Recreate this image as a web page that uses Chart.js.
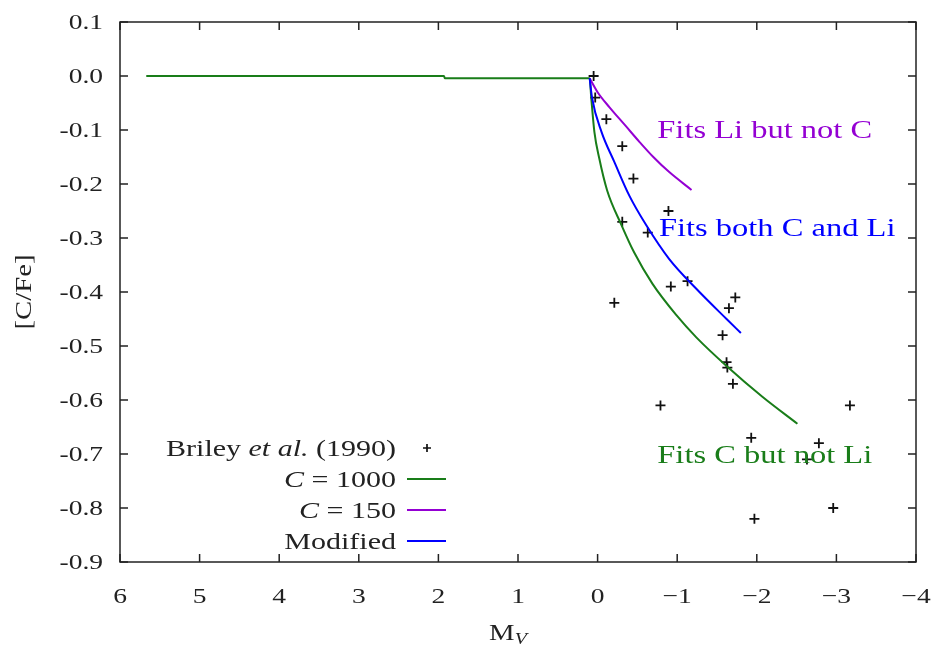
<!DOCTYPE html>
<html>
<head>
<meta charset="utf-8">
<script src="https://cdn.jsdelivr.net/npm/chart.js@4.4.1/dist/chart.umd.min.js"></script>
<style>
  html, body { margin: 0; padding: 0; background: #fff; }
  #wrap { width: 947px; height: 651px; }
</style>
</head>
<body>
<div id="wrap"><canvas id="chart"></canvas></div>
<script>
// Briley et al. (1990) giants
const brileyMv  = [0.05, 0.03, -0.11, -0.31, -0.45, -0.89, -0.31, -0.63, -0.92, -1.13, -0.21, -1.73,
                   -1.65, -1.57, -1.62, -1.63, -1.70, -0.79, -3.17, -1.93, -2.78, -2.63, -2.96, -1.97];
const brileyCFe = [0.00, -0.04, -0.08, -0.13, -0.19, -0.25, -0.27, -0.29, -0.39, -0.38, -0.42, -0.41,
                   -0.43, -0.48, -0.53, -0.54, -0.57, -0.61, -0.61, -0.67, -0.68, -0.71, -0.80, -0.82];

// mixing model, C = 1000
const c1000Mv  = [5.67, 1.93, 1.92, 0.10, 0.08, 0.04, -0.02, -0.12, -0.30, -0.46, -0.69, -0.99, -1.24, -1.62, -2.07, -2.51];
const c1000CFe = [0.000, 0.000, -0.004, -0.004, -0.040, -0.104, -0.152, -0.212, -0.276, -0.327, -0.385, -0.443, -0.484, -0.537, -0.594, -0.644];

// mixing model, C = 150
const c150Mv  = [0.10, 0.00, -0.15, -0.35, -0.52, -0.70, -0.90, -1.18];
const c150CFe = [-0.004, -0.030, -0.058, -0.092, -0.121, -0.150, -0.178, -0.211];

// modified mixing model
const modMv  = [0.10, 0.07, -0.05, -0.21, -0.40, -0.61, -0.90, -1.24, -1.62, -1.80];
const modCFe = [-0.004, -0.040, -0.104, -0.159, -0.222, -0.276, -0.339, -0.394, -0.450, -0.476];

const GREEN = 'rgb(25,125,25)';
const PURPLE = 'rgb(148,0,211)';
const BLUE = 'rgb(0,0,255)';
const SERIF = '"Liberation Serif", "Times New Roman", serif';
const STRETCH = 1.25;

const pts = (xs, ys) => xs.map((x, i) => ({ x, y: ys[i] }));

const lineSet = (label, xs, ys, color, order) => ({
  label,
  data: pts(xs, ys),
  showLine: true,
  borderColor: color,
  borderWidth: 2,
  pointRadius: 0,
  fill: false,
  cubicInterpolationMode: 'monotone',
  order,
});

// draw a row of text pieces, horizontally stretched like the TeX output
function drawRuns(ctx, runs, x, y, align, color) {
  ctx.save();
  ctx.fillStyle = color || '#222';
  ctx.textBaseline = 'alphabetic';
  ctx.textAlign = 'left';
  let w = 0;
  runs.forEach(r => { ctx.font = r.font; w += ctx.measureText(r.text).width; });
  let x0 = x;
  if (align === 'right') x0 = x - w * STRETCH;
  else if (align === 'center') x0 = x - w * STRETCH / 2;
  ctx.translate(x0, y);
  ctx.scale(STRETCH, 1);
  let off = 0;
  runs.forEach(r => {
    ctx.font = r.font;
    ctx.fillText(r.text, off, r.dy || 0);
    off += ctx.measureText(r.text).width;
  });
  ctx.restore();
}

const frame = {
  id: 'frame',
  afterDraw(chart) {
    const { ctx, chartArea: a, scales: { x, y } } = chart;
    const tick = 8;
    ctx.save();
    ctx.strokeStyle = '#222';
    ctx.lineWidth = 1.5;
    ctx.strokeRect(a.left, a.top, a.right - a.left, a.bottom - a.top);
    ctx.beginPath();
    x.ticks.forEach(t => {
      const px = x.getPixelForValue(t.value);
      ctx.moveTo(px, a.bottom); ctx.lineTo(px, a.bottom - tick);
      ctx.moveTo(px, a.top); ctx.lineTo(px, a.top + tick);
    });
    y.ticks.forEach(t => {
      const py = y.getPixelForValue(t.value);
      ctx.moveTo(a.left, py); ctx.lineTo(a.left + tick, py);
      ctx.moveTo(a.right, py); ctx.lineTo(a.right - tick, py);
    });
    ctx.stroke();
    ctx.restore();

    const tickFont = `22px ${SERIF}`;
    x.ticks.forEach(t => {
      const v = Math.round(t.value);
      const s = v < 0 ? '\u2212' + Math.abs(v) : String(v);
      drawRuns(ctx, [{ text: s, font: tickFont }], x.getPixelForValue(t.value), a.bottom + 41, 'center');
    });
    y.ticks.forEach(t => {
      const v = Math.abs(t.value) < 1e-9 ? 0 : t.value;
      const s = v < 0 ? '-' + Math.abs(v).toFixed(1) : v.toFixed(1);
      drawRuns(ctx, [{ text: s, font: tickFont }], a.left - 17, y.getPixelForValue(t.value) + 7, 'right');
    });

    // axis titles
    drawRuns(ctx, [
      { text: 'M', font: `23px ${SERIF}` },
      { text: 'V', font: `italic 16px ${SERIF}`, dy: 4 },
    ], (a.left + a.right) / 2 - 10, a.bottom + 78, 'center');
    ctx.save();
    ctx.translate(a.left - 96, (a.top + a.bottom) / 2);
    ctx.rotate(-Math.PI / 2);
    drawRuns(ctx, [{ text: '[C/Fe]', font: `23px ${SERIF}` }], 0, 7, 'center');
    ctx.restore();

    // key, lower left
    const kx = a.left + 276;
    const rows = [
      { runs: [{ text: 'Briley ', f: '' }, { text: 'et al.', f: 'italic ' }, { text: ' (1990)', f: '' }], color: null },
      { runs: [{ text: 'C', f: 'italic ' }, { text: ' = 1000', f: '' }], color: GREEN },
      { runs: [{ text: 'C', f: 'italic ' }, { text: ' = 150', f: '' }], color: PURPLE },
      { runs: [{ text: 'Modified', f: '' }], color: BLUE },
    ];
    rows.forEach((r, i) => {
      const cy = a.top + 426 + i * 31;
      drawRuns(ctx, r.runs.map(p => ({ text: p.text, font: `${p.f}24px ${SERIF}` })), kx, cy + 8, 'right');
      ctx.save();
      ctx.lineWidth = 2;
      if (r.color) {
        ctx.strokeStyle = r.color;
        ctx.beginPath(); ctx.moveTo(kx + 11, cy); ctx.lineTo(kx + 50, cy); ctx.stroke();
      } else {
        ctx.strokeStyle = '#111';
        ctx.lineWidth = 1.7;
        ctx.beginPath();
        ctx.moveTo(kx + 27, cy); ctx.lineTo(kx + 35, cy);
        ctx.moveTo(kx + 31, cy - 4); ctx.lineTo(kx + 31, cy + 4);
        ctx.stroke();
      }
      ctx.restore();
    });

    // notes next to the tracks
    const notes = [
      { text: 'Fits Li but not C', mv: -0.75, cfe: -0.115, color: PURPLE },
      { text: 'Fits both C and Li', mv: -0.77, cfe: -0.297, color: BLUE },
      { text: 'Fits C but not Li', mv: -0.75, cfe: -0.717, color: GREEN },
    ];
    notes.forEach(n => {
      drawRuns(ctx, [{ text: n.text, font: `26px ${SERIF}` }],
        x.getPixelForValue(n.mv), y.getPixelForValue(n.cfe), 'left', n.color);
    });
  }
};

new Chart(document.getElementById('chart'), {
  type: 'scatter',
  data: {
    datasets: [
      lineSet('Modified', modMv, modCFe, BLUE, 1),
      lineSet('C = 150', c150Mv, c150CFe, PURPLE, 2),
      lineSet('C = 1000', c1000Mv, c1000CFe, GREEN, 3),
      {
        label: 'Briley et al. (1990)',
        data: pts(brileyMv, brileyCFe),
        pointStyle: 'cross',
        pointRadius: 5,
        borderColor: '#111',
        borderWidth: 1.8,
        backgroundColor: '#111',
        order: 4,
      },
    ],
  },
  options: {
    responsive: true,
    maintainAspectRatio: false,
    animation: false,
    layout: { padding: { top: 22, right: 31, left: 0, bottom: 0 } },
    plugins: { legend: { display: false }, tooltip: { enabled: false } },
    scales: {
      x: {
        type: 'linear',
        reverse: true,
        min: -4,
        max: 6,
        ticks: { stepSize: 1, display: false },
        grid: { display: false, drawTicks: false },
        border: { display: false },
        afterFit: (s) => { s.height = 89; },
      },
      y: {
        type: 'linear',
        min: -0.9,
        max: 0.1,
        ticks: { stepSize: 0.1, display: false },
        grid: { display: false, drawTicks: false },
        border: { display: false },
        afterFit: (s) => { s.width = 120; },
      },
    },
  },
  plugins: [frame],
});
</script>
</body>
</html>
